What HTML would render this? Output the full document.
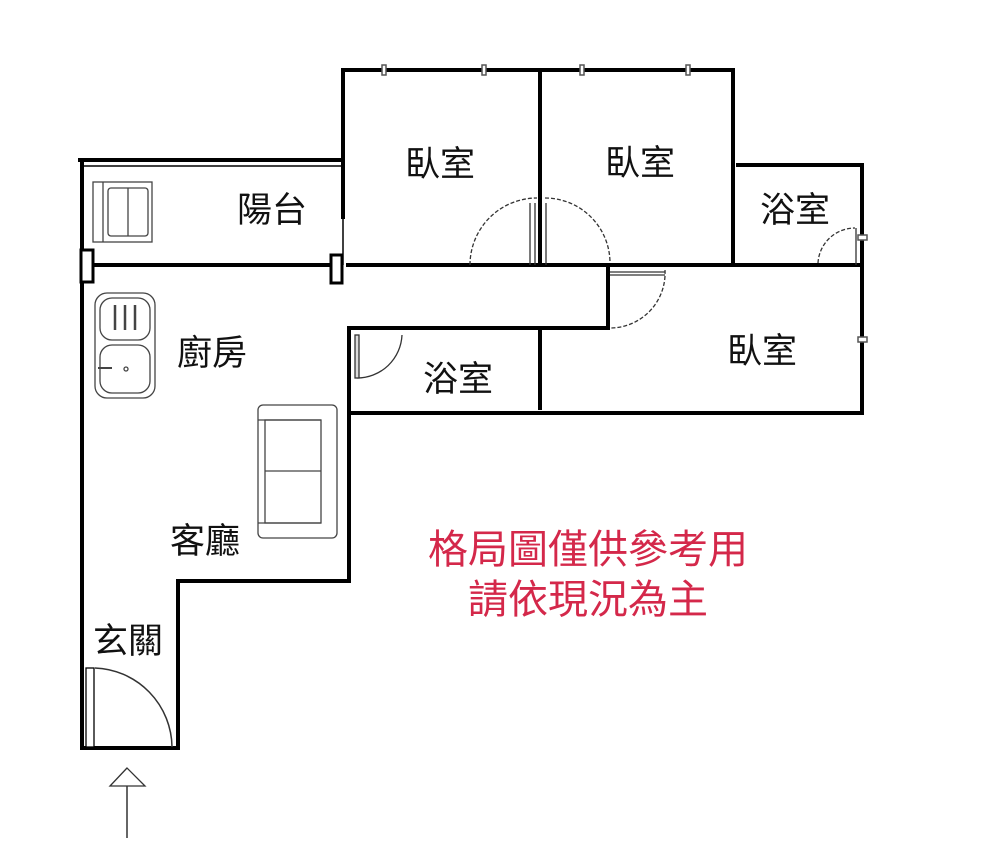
<!DOCTYPE html>
<html><head><meta charset="utf-8"><style>
html,body{margin:0;padding:0;background:#fff;width:1000px;height:844px;overflow:hidden}
text{font-family:"Liberation Sans","Noto Sans CJK TC",sans-serif}
</style></head><body>
<svg width="1000" height="844" viewBox="0 0 1000 844" xmlns="http://www.w3.org/2000/svg">
<g stroke="#000" stroke-width="4" fill="none" stroke-linecap="square">
<line x1="80" y1="160" x2="343" y2="160"/>
<line x1="82" y1="160" x2="82" y2="748"/>
<line x1="95" y1="265" x2="333" y2="265"/>
<line x1="343" y1="70" x2="343" y2="217"/>
<line x1="343" y1="70" x2="733" y2="70"/>
<line x1="540" y1="70" x2="540" y2="265"/>
<line x1="733" y1="70" x2="733" y2="265"/>
<line x1="348" y1="265" x2="862" y2="265"/>
<line x1="738" y1="165" x2="862" y2="165"/>
<line x1="862" y1="165" x2="862" y2="413"/>
<line x1="608" y1="265" x2="608" y2="328"/>
<line x1="349" y1="328" x2="608" y2="328"/>
<line x1="349" y1="328" x2="349" y2="581"/>
<line x1="540" y1="330" x2="540" y2="408"/>
<line x1="349" y1="413" x2="862" y2="413"/>
<line x1="178" y1="581" x2="349" y2="581"/>
<line x1="178" y1="581" x2="178" y2="748"/>
<line x1="82" y1="748" x2="178" y2="748"/>
</g>
<line x1="82" y1="166" x2="341" y2="166" stroke="#000" stroke-width="1.5"/>
<line x1="343" y1="217" x2="343" y2="265" stroke="#000" stroke-width="1.5"/>
<rect x="81" y="250" width="12" height="32" fill="#fff" stroke="#000" stroke-width="3"/>
<rect x="331" y="255" width="11" height="28" fill="#fff" stroke="#000" stroke-width="3"/>
<g fill="#fff" stroke="#555" stroke-width="1.5">
<rect x="382" y="65" width="4" height="10"/><rect x="482" y="65" width="4" height="10"/>
<rect x="580" y="65" width="4" height="10"/><rect x="686" y="65" width="4" height="10"/>
<rect x="858" y="235" width="9" height="5"/><rect x="858" y="337" width="9" height="5"/>
</g>
<g fill="none" stroke="#444" stroke-width="1.3">
<rect x="93" y="182" width="59" height="60"/>
<line x1="103" y1="182" x2="103" y2="242"/>
<rect x="108" y="188" width="40" height="48" rx="3"/>
<line x1="128" y1="188" x2="128" y2="236"/>
<rect x="95" y="293" width="60" height="105" rx="12"/>
<rect x="100" y="298" width="50" height="42" rx="12"/>
<rect x="100" y="345" width="50" height="48" rx="12"/>
<line x1="115" y1="305" x2="115" y2="330" stroke-width="2.5"/>
<line x1="125" y1="305" x2="125" y2="330" stroke-width="2.5"/>
<line x1="135" y1="305" x2="135" y2="330" stroke-width="2.5"/>
<circle cx="126" cy="369" r="2"/>
<line x1="98" y1="368" x2="112" y2="368" stroke-width="2"/>
<rect x="258" y="405" width="79" height="133" rx="5"/>
<rect x="265" y="420" width="56" height="103"/>
<line x1="265" y1="471" x2="321" y2="471"/>
<line x1="258" y1="420" x2="321" y2="420"/>
<line x1="258" y1="523" x2="321" y2="523"/>
</g>
<g fill="none" stroke="#333" stroke-width="1.3">
<path d="M470 265 A67 67 0 0 1 537 198" stroke-dasharray="4 2"/>
<line x1="530" y1="203" x2="530" y2="265"/><line x1="535" y1="203" x2="535" y2="265"/>
<path d="M545 198 A65 65 0 0 1 610 263" stroke-dasharray="4 2"/>
<line x1="546" y1="203" x2="546" y2="265"/>
<path d="M665 270 A55 55 0 0 1 610 328" stroke-dasharray="4 2"/>
<line x1="610" y1="272" x2="665" y2="272"/><line x1="610" y1="275" x2="665" y2="275"/>
<path d="M818 263 A37 37 0 0 1 855 228" stroke-dasharray="4 2"/>
<line x1="856" y1="228" x2="856" y2="265"/>
<path d="M402 335 A45 45 0 0 1 357 378"/>
<rect x="355" y="335" width="4" height="43" fill="#ddd"/>
<path d="M95 668 A80 80 0 0 1 172 747" stroke-width="1.5"/>
<rect x="86" y="668" width="8" height="79" fill="#fff" stroke="#000"/>
<polygon points="127,768 110,786 145,786"/>
<line x1="127" y1="786" x2="127" y2="838" stroke-width="1.5"/>
</g>
<g font-size="35" fill="#111" text-anchor="middle">
<text x="440" y="176">臥室</text>
<text x="272" y="222">陽台</text>
<text x="640" y="175">臥室</text>
<text x="795" y="222">浴室</text>
<text x="212" y="365">廚房</text>
<text x="458" y="391">浴室</text>
<text x="762" y="363">臥室</text>
<text x="205" y="553">客廳</text>
<text x="128" y="653">玄關</text>
</g>
<g font-size="40" fill="#d4284a" text-anchor="middle">
<text x="588" y="563">格局圖僅供參考用</text>
<text x="588" y="613">請依現況為主</text>
</g>
</svg>
</body></html>
